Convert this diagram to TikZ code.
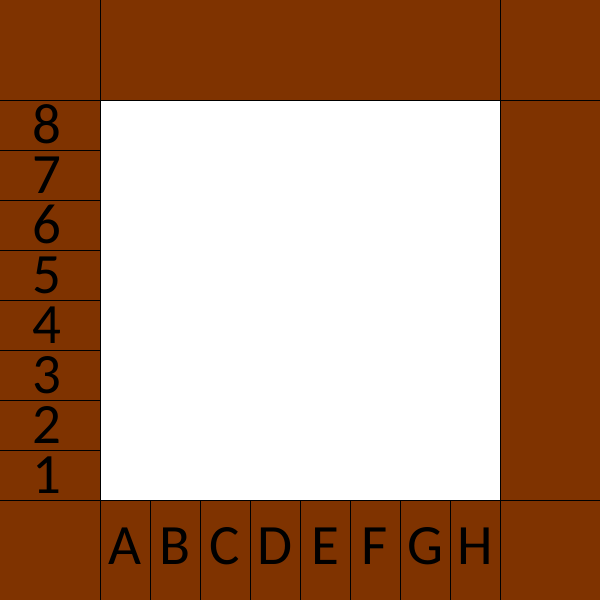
\documentclass[tikz,border=0pt]{standalone}
\usepackage{fontspec}
\setmainfont{Carlito}
\definecolor{wood}{RGB}{127,51,0}
\begin{document}
\begin{tikzpicture}[x=1pt,y=-1pt,
  grid/.style={draw=black,line width=0.9pt},
  lab/.style={anchor=base,inner sep=0pt,text height=37pt,text depth=0pt,font=\fontsize{57}{60}\selectfont}]
\useasboundingbox (0,0) rectangle (600,600);
\fill[wood] (0,0) rectangle (600,600);
\fill[white] (100,100) rectangle (500,500);
% main lines
\draw[grid] (100,0) -- (100,600);
\draw[grid] (500,0) -- (500,600);
\draw[grid] (0,100) -- (600,100);
\draw[grid] (0,500) -- (600,500);
% rank and file separators
\foreach \i in {1,...,7} {
  \draw[grid] (0,100+50*\i) -- (100,100+50*\i);
  \draw[grid] (100+50*\i,500) -- (100+50*\i,600);
}
% rank labels
\foreach \n [count=\i from 0] in {8,7,6,5,4,3,2,1} {
  \node[lab] (r\n) at (47,143+50*\i) {\n};
}
% file labels
\foreach \l [count=\i from 0] in {A,B,C,D,E,F,G,H} {
  \node[lab] (f\l) at (125+50*\i,564) {\l};
}
\end{tikzpicture}
\end{document}
